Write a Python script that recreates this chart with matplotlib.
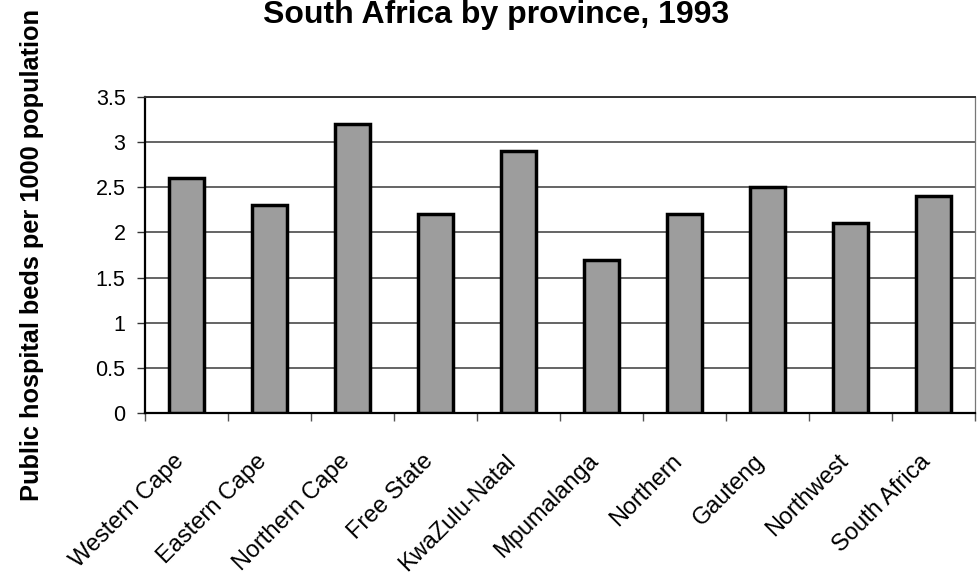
import matplotlib
matplotlib.use("Agg")
import matplotlib.pyplot as plt
import numpy as np
from matplotlib.transforms import ScaledTranslation

provinces = ["Western Cape", "Eastern Cape", "Northern Cape", "Free State",
             "KwaZulu-Natal", "Mpumalanga", "Northern", "Gauteng",
             "Northwest", "South Africa"]
beds_per_1000 = [2.6, 2.3, 3.2, 2.2, 2.9, 1.7, 2.2, 2.5, 2.1, 2.4]
y_ticks = [0, 0.5, 1, 1.5, 2, 2.5, 3, 3.5]
y_tick_labels = ["0", "0.5", "1", "1.5", "2", "2.5", "3", "3.5"]

plt.rcParams["font.family"] = ["Liberation Sans", "DejaVu Sans"]

W, H = 977, 582
fig = plt.figure(figsize=(W / 100, H / 100), dpi=100)
fig.patch.set_facecolor("white")

left, right, top, bottom = 145, 975, 97, 413
ax = fig.add_axes([left / W, 1 - bottom / H, (right - left) / W, (bottom - top) / H])

x = np.arange(len(provinces))
ax.bar(x, beds_per_1000, width=0.42, color="#9d9d9d", edgecolor="black",
       linewidth=2.5, zorder=3)

ax.set_ylim(0, 3.5)
ax.set_xlim(-0.5, -0.5 + (right - left) / 83.4)

# horizontal gridlines
ax.set_yticks(y_ticks)
ax.set_yticklabels(y_tick_labels, fontsize=15.5)
ax.yaxis.grid(True, color="#3a3a3a", linewidth=1.1, zorder=1)
ax.tick_params(axis="y", direction="out", length=6, width=1, color="#333333", pad=8)

# category ticks at boundaries, labels placed as rotated text
ax.set_xticks(np.arange(len(provinces) + 1) - 0.5)
ax.set_xticklabels([])
ax.tick_params(axis="x", direction="out", length=6, width=1, color="#555555")

offset = ScaledTranslation(-6 / 100, -45 / 100, fig.dpi_scale_trans)
for i, name in enumerate(provinces):
    ax.text(i, 0, name, transform=ax.get_xaxis_transform() + offset,
            rotation=45, rotation_mode="anchor", ha="right", va="center",
            fontsize=17, color="black")

for side in ["left", "bottom"]:
    ax.spines[side].set_color("black")
    ax.spines[side].set_linewidth(1.6)
ax.spines["top"].set_color("#333333")
ax.spines["top"].set_linewidth(1.4)
ax.spines["right"].set_color("#777777")
ax.spines["right"].set_linewidth(0.9)

fig.text(32 / W, 1 - 255 / H, "Public hospital beds per 1000 population",
         rotation=90, ha="center", va="center", fontsize=18.3, fontweight="bold")
fig.text(496 / W, 1 - 15 / H, "South Africa by province, 1993",
         ha="center", va="center", fontsize=23, fontweight="bold")

fig.savefig("out.png", dpi=100, facecolor="white")
